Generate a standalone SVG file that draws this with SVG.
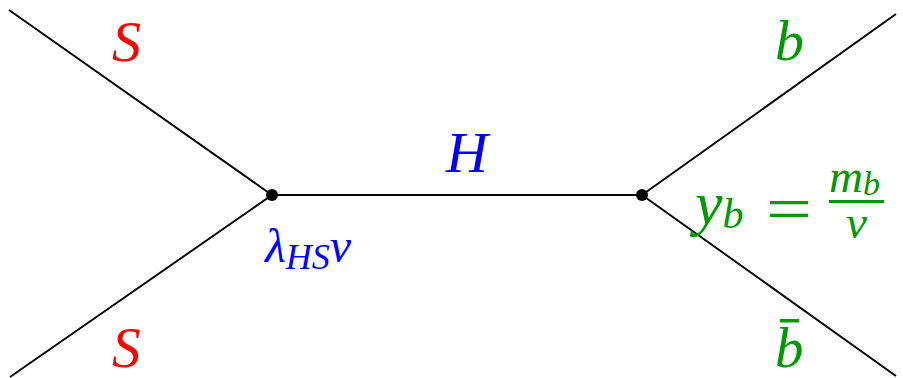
<svg xmlns="http://www.w3.org/2000/svg" width="903" height="378" viewBox="0 0 903 378">
<style>
.l{stroke:#000;stroke-width:1.9;fill:none}
.t{font-family:"Liberation Serif",serif;font-style:italic}
.r{fill:#ff0000}.b{fill:#0000ff}.g{fill:#009900}
</style>
<rect width="903" height="378" fill="#fff"/>
<g id="connectors">
<line class="l" x1="9" y1="10" x2="272" y2="195"/>
<line class="l" x1="10" y1="377" x2="272" y2="195"/>
<line class="l" x1="272" y1="195" x2="642" y2="195"/>
<line class="l" x1="642" y1="195" x2="896" y2="14"/>
<line class="l" x1="642" y1="195" x2="896" y2="376"/>
</g>
<g id="v1"><circle cx="272" cy="195" r="6"/>
<text class="t b" x="265" y="262" font-size="48">λ<tspan font-size="36" dy="7">HS</tspan><tspan dy="-7">v</tspan></text></g>
<g id="v2"><circle cx="642" cy="195" r="6"/>
<text class="t g" x="695" y="224" font-size="62">y<tspan font-size="42" dy="4">b</tspan></text>
<text class="g" x="766" y="230" font-size="64" font-family="Liberation Serif,serif" textLength="46" lengthAdjust="spacingAndGlyphs">=</text>
<text class="t g" x="829" y="192" font-size="47">m<tspan font-size="34" dy="3">b</tspan></text>
<rect class="g" x="829" y="200" width="55" height="3"/>
<text class="t g" x="846" y="238" font-size="47">v</text></g>
<g id="s1"><text class="t r" x="112" y="61" font-size="58">S</text></g>
<g id="s2"><text class="t r" x="112" y="367" font-size="57">S</text></g>
<g id="h"><text class="t b" x="446" y="172" font-size="58">H</text></g>
<g id="b1"><text class="t g" x="775" y="60" font-size="58">b</text></g>
<g id="b2"><text class="t g" x="775" y="367" font-size="57">b</text><rect class="g" x="780" y="319" width="19" height="3.5"/></g>
</svg>
